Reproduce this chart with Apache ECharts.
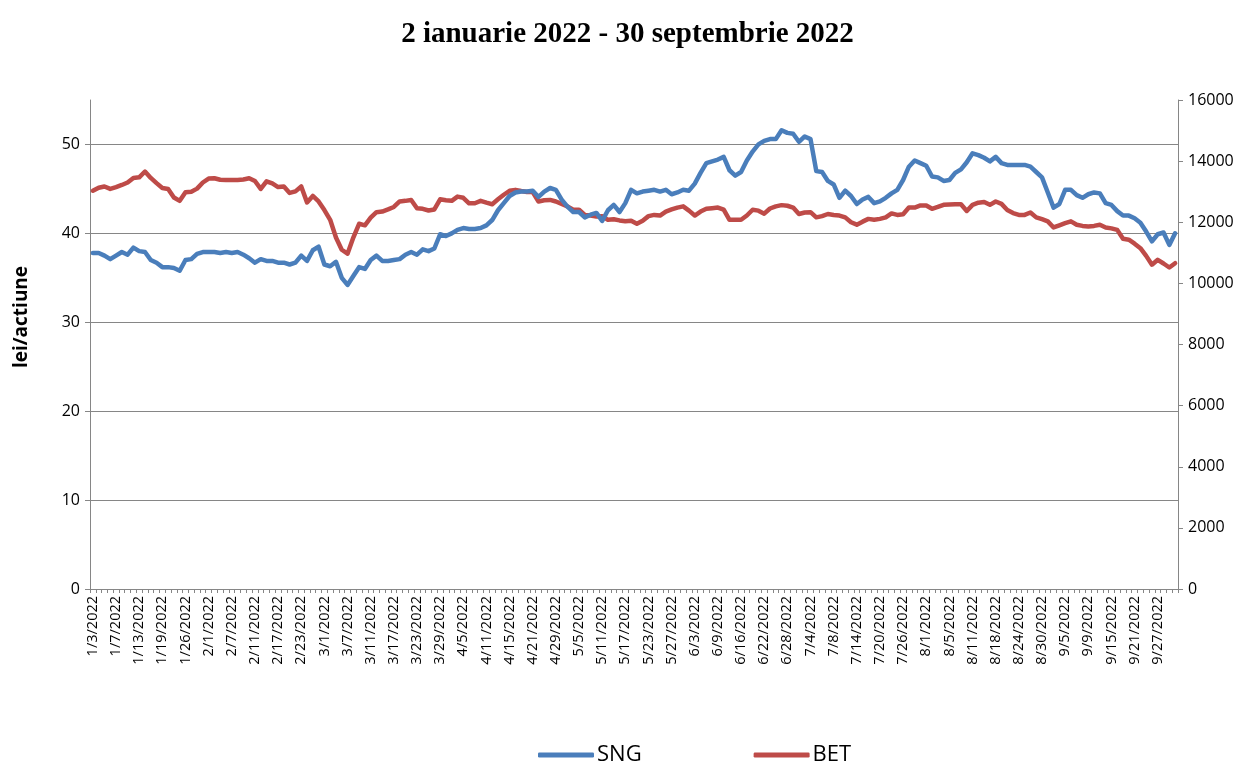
<!DOCTYPE html>
<html><head><meta charset="utf-8">
<script src="https://cdn.jsdelivr.net/npm/echarts@6/dist/echarts.min.js"></script>
<style>html,body{margin:0;padding:0;background:#fff}#c{width:1255px;height:763px}</style>
</head><body><div id="c"></div>
<script>
const dates = ["1/3/2022","1/4/2022","1/5/2022","1/6/2022","1/7/2022","1/10/2022","1/11/2022","1/12/2022","1/13/2022","1/14/2022","1/17/2022","1/18/2022","1/19/2022","1/20/2022","1/21/2022","1/25/2022","1/26/2022","1/27/2022","1/28/2022","1/31/2022",
"2/1/2022","2/2/2022","2/3/2022","2/4/2022","2/7/2022","2/8/2022","2/9/2022","2/10/2022","2/11/2022","2/14/2022","2/15/2022","2/16/2022","2/17/2022","2/18/2022","2/21/2022","2/22/2022","2/23/2022","2/24/2022","2/25/2022","2/28/2022",
"3/1/2022","3/2/2022","3/3/2022","3/4/2022","3/7/2022","3/8/2022","3/9/2022","3/10/2022","3/11/2022","3/14/2022","3/15/2022","3/16/2022","3/17/2022","3/18/2022","3/21/2022","3/22/2022","3/23/2022","3/24/2022","3/25/2022","3/28/2022","3/29/2022","3/30/2022","3/31/2022",
"4/1/2022","4/5/2022","4/6/2022","4/7/2022","4/8/2022","4/11/2022","4/12/2022","4/13/2022","4/14/2022","4/15/2022","4/18/2022","4/19/2022","4/20/2022","4/21/2022","4/26/2022","4/27/2022","4/28/2022","4/29/2022",
"5/2/2022","5/3/2022","5/4/2022","5/5/2022","5/6/2022","5/9/2022","5/10/2022","5/11/2022","5/12/2022","5/13/2022","5/16/2022","5/17/2022","5/18/2022","5/19/2022","5/20/2022","5/23/2022","5/24/2022","5/25/2022","5/26/2022","5/27/2022","5/30/2022","5/31/2022",
"6/2/2022","6/3/2022","6/6/2022","6/7/2022","6/8/2022","6/9/2022","6/10/2022","6/14/2022","6/15/2022","6/16/2022","6/17/2022","6/20/2022","6/21/2022","6/22/2022","6/23/2022","6/24/2022","6/27/2022","6/28/2022","6/29/2022","6/30/2022",
"7/1/2022","7/4/2022","7/5/2022","7/6/2022","7/7/2022","7/8/2022","7/11/2022","7/12/2022","7/13/2022","7/14/2022","7/15/2022","7/18/2022","7/19/2022","7/20/2022","7/21/2022","7/22/2022","7/25/2022","7/26/2022","7/27/2022","7/28/2022","7/29/2022",
"8/1/2022","8/2/2022","8/3/2022","8/4/2022","8/5/2022","8/8/2022","8/9/2022","8/10/2022","8/11/2022","8/12/2022","8/16/2022","8/17/2022","8/18/2022","8/19/2022","8/22/2022","8/23/2022","8/24/2022","8/25/2022","8/26/2022","8/29/2022","8/30/2022","8/31/2022",
"9/1/2022","9/2/2022","9/5/2022","9/6/2022","9/7/2022","9/8/2022","9/9/2022","9/12/2022","9/13/2022","9/14/2022","9/15/2022","9/16/2022","9/19/2022","9/20/2022","9/21/2022","9/22/2022","9/23/2022","9/26/2022","9/27/2022","9/28/2022","9/29/2022","9/30/2022"];

const sng = [37.8,37.8,37.5,37.1,37.5,37.9,37.6,38.4,38.0,37.9,37.0,36.7,36.2,36.2,36.1,35.8,37.0,37.1,37.7,37.9,
37.9,37.9,37.8,37.9,37.8,37.9,37.6,37.2,36.7,37.1,36.9,36.9,36.7,36.7,36.5,36.7,37.5,36.9,38.1,38.5,
36.5,36.3,36.8,35.0,34.2,35.2,36.2,36.0,37.0,37.5,36.9,36.9,37.0,37.1,37.6,37.9,37.6,38.2,38.0,38.3,39.9,39.7,40.0,
40.4,40.6,40.5,40.5,40.6,40.9,41.5,42.6,43.4,44.2,44.6,44.7,44.7,44.8,44.1,44.7,45.1,44.9,
43.8,43.0,42.4,42.4,41.8,42.1,42.3,41.4,42.6,43.2,42.4,43.4,44.9,44.5,44.7,44.8,44.9,44.7,44.9,44.4,44.6,44.9,
44.8,45.6,46.8,47.9,48.1,48.3,48.6,47.1,46.5,46.9,48.2,49.2,50.0,50.4,50.6,50.6,51.6,51.3,51.2,50.3,
50.9,50.6,47.0,46.9,45.9,45.5,44.0,44.8,44.2,43.3,43.8,44.1,43.4,43.6,44.0,44.5,44.9,46.0,47.5,48.2,47.9,
47.6,46.4,46.3,45.9,46.0,46.8,47.2,48.0,49.0,48.8,48.5,48.1,48.6,47.9,47.7,47.7,47.7,47.7,47.5,46.9,46.3,44.6,
42.9,43.3,44.9,44.9,44.3,44.0,44.4,44.6,44.5,43.4,43.2,42.5,42.0,42.0,41.7,41.2,40.2,39.1,39.9,40.1,38.7,40.0];

const bet = [13030,13130,13170,13090,13150,13220,13300,13450,13470,13660,13450,13280,13120,13090,12810,12700,12980,13000,13100,13300,
13430,13440,13390,13380,13380,13380,13400,13440,13350,13090,13340,13270,13150,13170,12960,13010,13170,12650,12860,12680,
12400,12080,11500,11100,10970,11500,11950,11900,12150,12330,12350,12420,12500,12680,12700,12730,12460,12440,12385,12420,12750,12720,12700,
12840,12800,12620,12620,12700,12640,12590,12750,12900,13030,13060,13020,12990,12990,12680,12720,12730,12680,
12600,12520,12410,12410,12240,12220,12190,12200,12080,12100,12060,12030,12050,11950,12050,12200,12240,12220,12350,12420,12480,12520,
12380,12220,12350,12440,12460,12480,12410,12080,12080,12080,12220,12410,12380,12280,12450,12520,12560,12540,12480,12270,
12320,12330,12160,12200,12270,12240,12220,12160,12000,11920,12020,12110,12080,12110,12160,12290,12240,12260,12480,12480,12550,
12550,12440,12500,12570,12580,12590,12590,12370,12570,12640,12660,12570,12680,12600,12400,12300,12240,12240,12320,12160,12100,12030,
11830,11900,11970,12030,11920,11880,11860,11880,11920,11830,11800,11750,11460,11430,11300,11150,10900,10610,10770,10650,10520,10660];

const leftTicks = [0,10,20,30,40,50];

const grey = '#868686';
const font = 'Open Sans';
const chart = echarts.init(document.getElementById('c'));
chart.setOption({
  animation: false,
  backgroundColor: '#fff',
  title: {
    text: '2 ianuarie 2022 - 30 septembrie 2022',
    left: 'center', top: 15,
    textStyle: {fontFamily: 'Liberation Serif', fontWeight: 'bold', fontSize: 29, color: '#000'}
  },
  graphic: [{
    type: 'text', x: 22, y: 317, rotation: Math.PI / 2,
    style: {text: 'lei/actiune', fontFamily: font, fontWeight: 'bold', fontSize: 19, fill: '#000',
      align: 'center', verticalAlign: 'middle'}
  }],
  legend: {
    left: 533, top: 739, itemGap: 112, itemWidth: 56, itemHeight: 5, icon: 'roundRect',
    textStyle: {fontFamily: font, fontSize: 22, color: '#000', padding: [0,0,0,-2]},
    data: ['SNG', 'BET']
  },
  grid: {left: 90, right: 77, top: 100, bottom: 174},
  xAxis: {
    type: 'category', data: dates, boundaryGap: true,
    axisLine: {lineStyle: {color: grey, width: 1}},
    axisTick: {show: true, interval: 0, length: 4, lineStyle: {color: grey}},
    axisLabel: {interval: 3, rotate: 90, fontFamily: font, fontSize: 14.5, color: '#000', margin: 7},
    splitLine: {show: false}
  },
  yAxis: [{
    type: 'value', min: 0, max: 55, interval: 10,
    axisLine: {show: true, lineStyle: {color: grey, width: 1}},
    axisTick: {show: true, length: 5, lineStyle: {color: grey}, customValues: leftTicks},
    axisLabel: {fontFamily: font, fontSize: 16, color: '#000', margin: 10, customValues: leftTicks},
    splitLine: {show: true, lineStyle: {color: [grey,grey,grey,grey,grey,grey,'rgba(0,0,0,0)'], width: 1}}
  }, {
    type: 'value', min: 0, max: 16000, interval: 2000, position: 'right',
    axisLine: {show: true, lineStyle: {color: grey, width: 1}},
    axisTick: {show: true, length: 5, lineStyle: {color: grey}},
    axisLabel: {fontFamily: font, fontSize: 16, color: '#000', margin: 10, formatter: v => String(v)},
    splitLine: {show: false}
  }],
  series: [{
    name: 'SNG', type: 'line', yAxisIndex: 0, data: sng, showSymbol: false, symbol: 'none',
    lineStyle: {color: '#4A7EBB', width: 4.5, join: 'round', cap: 'round'},
    itemStyle: {color: '#4A7EBB'}, z: 3
  }, {
    name: 'BET', type: 'line', yAxisIndex: 1, data: bet, showSymbol: false, symbol: 'none',
    lineStyle: {color: '#BE4B48', width: 4.5, join: 'round', cap: 'round'},
    itemStyle: {color: '#BE4B48'}, z: 2
  }]
});
</script></body></html>
